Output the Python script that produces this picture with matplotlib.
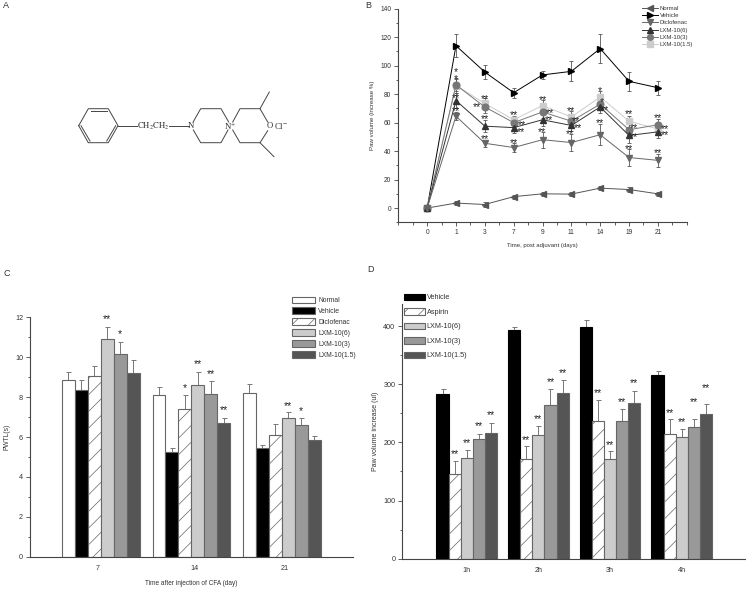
import matplotlib
matplotlib.use('Agg')
import matplotlib.pyplot as plt
from matplotlib.patches import Patch
from matplotlib.lines import Line2D
from matplotlib.ticker import MultipleLocator
import numpy as np

plt.rcParams['font.family'] = ['Liberation Sans', 'DejaVu Sans']
plt.rcParams['mathtext.fontset'] = 'stix'
plt.rcParams['hatch.linewidth'] = 0.5
TXT = '#333333'
AX = '#444444'
W, H = 748, 589

# ---------- panel B data ----------
days = ['0', '1', '3', '7', '9', '11', '14', '19', '21']
b_names = ['Normal', 'Vehicle', 'Diclofenac', 'LXM-10(6)', 'LXM-10(3)', 'LXM-10(1.5)']
b_normal = [0, 3.5, 2.5, 8, 10, 9.8, 14, 13, 10]
b_vehicle = [0, 114, 95.5, 81, 93.5, 96, 112, 89, 84.5]
b_diclo = [0, 64.5, 45.5, 42.5, 48, 46, 51.5, 35.5, 33.5]
b_l6 = [0, 75.5, 57.5, 56.5, 62, 58, 71, 51, 53.5]
b_l3 = [0, 86.5, 71, 60, 67.5, 61, 73, 55, 58.5]
b_l15 = [0, 86, 73.5, 62, 72, 64, 78, 61, 55.5]
e_normal = [0, 1.5, 1.5, 1.5, 1.5, 1.5, 1.5, 2, 1.5]
e_vehicle = [0, 8, 5, 3.5, 3, 7, 10, 6.5, 5]
e_diclo = [0, 3, 2.5, 3, 5.5, 6, 7.5, 6, 4.5]
e_l6 = [0, 5, 4, 3.5, 4.5, 4, 4, 5, 4.5]
e_l3 = [0, 4, 4, 3, 4, 4, 4, 4, 4]
e_l15 = [0, 5, 4, 3, 4, 4, 4, 4, 4]
b_colors = ['#555555', '#000000', '#666666', '#333333', '#777777', '#cccccc']
b_markers = ['<', '>', 'v', '^', 'o', 's']
# star annotations: position index, value, label
b_star_x = [1, 1, 1, 1, 2, 1.71, 2, 2, 3, 3.28, 3.24, 3, 4, 4.27, 4.23, 3.97,
            5, 5.15, 5.22, 4.95, 6, 6.07, 6.15, 5.98, 7, 7.17, 7.17, 7, 8, 8.25, 8.23, 8]
b_star_y = [96, 91, 78, 68.5, 77.5, 71.5, 63.5, 49, 66, 58.9, 54.2, 46, 76.6, 67.7, 62.3, 54.2,
            68.8, 61.8, 57.1, 52.8, 83, 75.2, 69.5, 60.6, 66.5, 56.7, 50.6, 42.4, 64.1, 56.2, 51.7, 39.1]
b_star_t = ['*', '*', '**', '**', '**', '**', '**', '**', '**', '**', '**', '**', '**', '**', '**', '**',
            '**', '**', '**', '**', '*', '*', '**', '**', '**', '**', '**', '**', '**', '**', '**', '**']

# ---------- panel C data ----------
c_groups = ['7', '14', '21']
c_names = ['Normal', 'Vehicle', 'Diclofenac', 'LXM-10(6)', 'LXM-10(3)', 'LXM-10(1.5)']
c_vals = [[8.85, 8.1, 8.2], [8.35, 5.25, 5.45], [9.05, 7.38, 6.08],
          [10.92, 8.6, 6.95], [10.15, 8.18, 6.6], [9.2, 6.7, 5.85]]
c_err = [[0.42, 0.39, 0.44], [0.52, 0.18, 0.17], [0.53, 0.72, 0.59],
         [0.58, 0.64, 0.29], [0.6, 0.61, 0.37], [0.64, 0.24, 0.2]]
c_tick_pos = [-0.034, 1.03, 2.03]
c_star_g = [0, 0, 1, 1, 1, 1, 2, 2]
c_star_s = [3, 4, 2, 3, 4, 5, 3, 4]
c_star_y = [11.95, 11.2, 8.52, 9.72, 9.19, 7.4, 7.6, 7.35]
c_star_t = ['**', '*', '*', '**', '**', '**', '**', '*']

# ---------- panel D data ----------
d_groups = ['1h', '2h', '3h', '4h']
d_names = ['Vehicle', 'Aspirin', 'LXM-10(6)', 'LXM-10(3)', 'LXM-10(1.5)']
d_vals = [[284, 394, 398, 316], [145, 171, 236, 214], [174, 212, 172, 209],
          [205, 265, 236, 226], [216, 285, 267, 248]]
d_err = [[7.5, 5, 12, 6.5], [22.6, 22, 36.6, 26], [12.5, 16, 13, 13.7],
         [10, 26.5, 21, 14], [17, 22.6, 21, 17.7]]
d_star_y = [[None] * 4, [181.3, 205.4, 286.4, 251.9], [199.7, 241.5, 197.4, 236.4],
            [229.5, 304.7, 271.4, 270.3], [248.4, 321.4, 303.6, 295]]

bar_faces = {'Normal': '#ffffff', 'Vehicle': '#000000', 'Diclofenac': '#ffffff', 'Aspirin': '#ffffff',
             'LXM-10(6)': '#cccccc', 'LXM-10(3)': '#999999', 'LXM-10(1.5)': '#555555'}

# ---------- panel A structure (pixel drawing) ----------
bonds = [[(78.7, 125.7), (88.3, 108.7), (108.3, 108.7), (118, 125.7), (108.3, 142.7), (88.3, 142.7), (78.7, 125.7)],
         [(90.7, 110.7), (106.7, 110.7)], [(81, 125.7), (90, 141)], [(115.7, 125.7), (106.7, 141)],
         [(118, 125.7), (137.3, 125.7)], [(169.3, 125.7), (189, 125.7)],
         [(193.3, 121.7), (200.7, 108.7), (221, 108.7), (228.7, 122)],
         [(193.3, 130), (200.7, 142.7), (221, 142.7), (228, 130)],
         [(232.7, 122), (240, 108.7), (260, 108.7), (267.7, 122)],
         [(232.7, 130), (240, 142.7), (260, 142.7), (267.7, 130.7)],
         [(260, 108.7), (269.3, 92)], [(260, 142.7), (274, 156.7)]]
atoms = [(153, 126, r'$\mathrm{CH_2CH_2}$'), (191, 126, 'N'), (230.5, 126, r'N$^{+}$'),
         (269.7, 126, 'O'), (281, 126, r'Cl$^{-}$')]


def add_ax(l, r, t, b):
    return fig.add_axes([l / W, 1 - b / H, (r - l) / W, (b - t) / H])


def style(ax, size):
    for s in ['top', 'right']:
        ax.spines[s].set_visible(False)
    for s in ['left', 'bottom']:
        ax.spines[s].set_color(AX)
        ax.spines[s].set_linewidth(0.8)
    ax.tick_params(axis='both', which='major', length=3, width=0.6, color=AX, labelsize=size, labelcolor=TXT, pad=2)
    ax.tick_params(axis='both', which='minor', length=1.8, width=0.6, color=AX)


def stars(ax, x, y, t, size=7.5):
    ax.annotate(t, (x, y), xytext=(0, -1), textcoords='offset pixels', ha='center', va='center',
                fontsize=size, color='#222222', annotation_clip=False)


fig = plt.figure(figsize=(W / 100, H / 100), dpi=100)

# overlay
ov = fig.add_axes([0, 0, 1, 1])
ov.set_xlim(0, W)
ov.set_ylim(H, 0)
ov.axis('off')
for b in bonds:
    xs, ys = zip(*b)
    ov.plot(xs, ys, color='#444444', lw=0.7)
for x, y, t in atoms:
    ov.text(x, y, t, ha='center', va='center', fontsize=6.2, family='Liberation Serif', color='#333333')
for x, y, t in [(6, 6, 'A'), (368, 6, 'B'), (7, 273, 'C'), (371, 269, 'D')]:
    ov.text(x, y, t, ha='center', va='center', fontsize=6.5, color='#333333')

# ---------- B ----------
ax = add_ax(398.3, 686.7, 8.7, 222.3)
style(ax, 4.8)
xi = np.arange(len(days))
series = [(b_normal, e_normal), (b_vehicle, e_vehicle), (b_diclo, e_diclo), (b_l6, e_l6), (b_l3, e_l3), (b_l15, e_l15)]
order = [0, 1, 5, 4, 3, 2]
for i in order:
    v, e = series[i]
    ax.errorbar(xi, v, yerr=e, color=b_colors[i], marker=b_markers[i], ms=4.8, lw=0.7,
                elinewidth=0.6, capsize=1.5, capthick=0.6, mec=b_colors[i], ecolor='#555555')
ax.set_xlim(-1, 9)
ax.set_ylim(-10, 140)
ax.set_xticks(xi, days)
ax.xaxis.set_minor_locator(MultipleLocator(0.5))
ax.set_yticks([0, 20, 40, 60, 80, 100, 120, 140])
ax.yaxis.set_minor_locator(MultipleLocator(10))
ax.set_xlabel('Time, post adjuvant (days)', fontsize=4.3, color=TXT, labelpad=5)
ax.set_ylabel('Paw volume (increase %)', fontsize=4.4, color=TXT, labelpad=3.5)
for x, y, t in zip(b_star_x, b_star_y, b_star_t):
    stars(ax, x, y, t)
b_handles = [Line2D([], [], color=c, marker=m, ms=4.2, lw=0.7) for c, m in zip(b_colors, b_markers)]
leg = ax.legend(b_handles, b_names, frameon=False, fontsize=4.3,
                loc='upper left', bbox_to_anchor=((642 - 398.3) / 288.4, 1.015), handlelength=2.6,
                handletextpad=0.4, labelspacing=0.36, borderpad=0, borderaxespad=0)
for t in leg.get_texts():
    t.set_color(TXT)

# ---------- C ----------
ax = add_ax(30, 352.7, 317.3, 556.7)
style(ax, 5.2)
w = 1 / 7
for s, name in enumerate(c_names):
    xs = np.arange(3) + (s - 2.5) * w
    ax.bar(xs, c_vals[s], w, color=bar_faces[name], edgecolor='#666666', linewidth=0.8,
           hatch='//' if name == 'Diclofenac' else None, zorder=2)
    ax.errorbar(xs, c_vals[s], yerr=[np.zeros(3), c_err[s]], fmt='none', ecolor='#777777',
                elinewidth=0.7, capsize=1.8, capthick=0.7, zorder=1)
for g, s, y, t in zip(c_star_g, c_star_s, c_star_y, c_star_t):
    stars(ax, g + (s - 2.5) * w, y, t)
ax.set_xlim(-0.782, 2.783)
ax.set_ylim(0, 12)
ax.set_xticks(c_tick_pos, c_groups)
ax.tick_params(axis='x', length=0, pad=6)
ax.yaxis.set_major_locator(MultipleLocator(2))
ax.yaxis.set_minor_locator(MultipleLocator(1))
ax.set_xlabel('Time after injection of CFA (day)', fontsize=4.7, color=TXT, labelpad=5.5)
ax.set_ylabel('PWTL(s)', fontsize=4.8, color=TXT, labelpad=3)
hs = [Patch(facecolor=bar_faces[n], edgecolor='#666666', lw=0.8, hatch='//' if n == 'Diclofenac' else None)
      for n in c_names]
leg = ax.legend(hs, c_names, frameon=False, fontsize=4.9, loc='upper left',
                bbox_to_anchor=((292 - 30) / 322.7, (556.7 - 296.5) / 239.4), handlelength=3.4, handleheight=1.1,
                handletextpad=0.45, labelspacing=0.5, borderpad=0, borderaxespad=0)
for t in leg.get_texts():
    t.set_color(TXT)

# ---------- D ----------
ax = add_ax(402.3, 745, 304, 558.7)
style(ax, 5.2)
w = 12.1 / 71.67
for s, name in enumerate(d_names):
    xs = np.arange(4) + (s - 2) * w
    ax.bar(xs, d_vals[s], w, color=bar_faces[name], edgecolor='#666666' if s else '#000000', linewidth=0.8,
           hatch='//' if name == 'Aspirin' else None, zorder=2)
    ax.errorbar(xs, d_vals[s], yerr=[np.zeros(4), d_err[s]], fmt='none', ecolor='#777777',
                elinewidth=0.7, capsize=1.8, capthick=0.7, zorder=1)
    for g, y in enumerate(d_star_y[s]):
        if y is not None:
            stars(ax, xs[g], y, '**')
ax.set_xlim((402.3 - 466.7) / 71.67, (745 - 466.7) / 71.67)
ax.set_ylim(0, 438)
ax.set_xticks(np.arange(4), d_groups)
ax.tick_params(axis='x', length=0, pad=6)
ax.yaxis.set_major_locator(MultipleLocator(100))
ax.yaxis.set_minor_locator(MultipleLocator(50))
ax.set_ylabel('Paw volume increase (ul)', fontsize=5.0, color=TXT, labelpad=3)
hs = [Patch(facecolor=bar_faces[n], edgecolor='#666666' if n != 'Vehicle' else '#000000', lw=0.8,
            hatch='//' if n == 'Aspirin' else None) for n in d_names]
leg = ax.legend(hs, d_names, frameon=False, fontsize=5.2, loc='upper left',
                bbox_to_anchor=((404.3 - 402.3) / 342.7, 1.041), handlelength=2.8, handleheight=1.05,
                handletextpad=0.3, labelspacing=0.93, borderpad=0, borderaxespad=0)
for t in leg.get_texts():
    t.set_color(TXT)

fig.savefig('out.png', dpi=100)
